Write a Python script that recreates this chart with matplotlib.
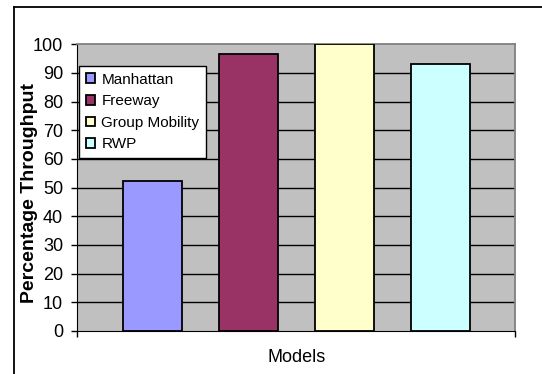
import matplotlib.pyplot as plt
from matplotlib.lines import Line2D
import numpy as np

plt.rcParams['font.family'] = ['Liberation Sans', 'DejaVu Sans']

# Throughput per mobility model
models = ['Manhattan', 'Freeway', 'Group Mobility', 'RWP']
throughput = [52.3, 96.4, 100, 93.1]
colors = ['#9999FF', '#993366', '#FFFFCC', '#CCFFFF']
yticks = np.arange(0, 101, 10)

fig = plt.figure(figsize=(5.42, 3.74), dpi=100)
ax = fig.add_axes([0.142, 0.115, 0.809, 0.767])

# one category, four series side by side
width = 0.134
step = 0.219
for i, (name, val, col) in enumerate(zip(models, throughput, colors)):
    ax.bar(0.5 + (i - 1.5) * step, val, width, color=col, edgecolor='black',
           linewidth=1.3, label=name, zorder=3)

ax.set_xlim(0, 1)
ax.set_ylim(0, 100)
ax.set_facecolor('#C0C0C0')
ax.set_yticks(yticks)
ax.set_xticks([0, 1])
ax.set_xticklabels(['', ''])
ax.tick_params(axis='both', direction='out', length=4.5, width=1, color='black',
               labelsize=13)
ax.tick_params(axis='y', pad=5.5)

# horizontal gridlines behind the bars
for y in yticks[1:-1]:
    ax.axhline(y, color='black', linewidth=1, zorder=1)

ax.spines['top'].set_color('#808080')
ax.spines['right'].set_color('#808080')
ax.spines['top'].set_linewidth(1.3)
ax.spines['right'].set_linewidth(1.3)
ax.spines['left'].set_color('black')
ax.spines['bottom'].set_color('black')

ax.set_ylabel('Percentage Throughput', fontsize=14, fontweight='bold')
ax.yaxis.set_label_coords(-0.109, 0.48)
ax.yaxis.label.set_va('center')
ax.set_xlabel('Models', fontsize=13)
ax.xaxis.set_label_coords(0.5, -0.094)
ax.xaxis.label.set_va('center')

leg = ax.legend(loc='upper left', bbox_to_anchor=(0.005, 0.925), fontsize=11,
                frameon=True, fancybox=False, edgecolor='black', framealpha=1,
                handlelength=0.6, handleheight=0.6, handletextpad=0.4,
                labelspacing=0.5, borderpad=0.45, borderaxespad=0)
leg.get_frame().set_linewidth(1)
leg.set_zorder(5)

# chart area border (left and top edges visible)
fig.add_artist(Line2D([13.5 / 542, 13.5 / 542], [0, 1 - 6.5 / 374],
                      transform=fig.transFigure, color='black', linewidth=1.3))
fig.add_artist(Line2D([13.5 / 542, 1], [1 - 6.5 / 374, 1 - 6.5 / 374],
                      transform=fig.transFigure, color='black', linewidth=1.3))

fig.savefig('out.png', dpi=100)
